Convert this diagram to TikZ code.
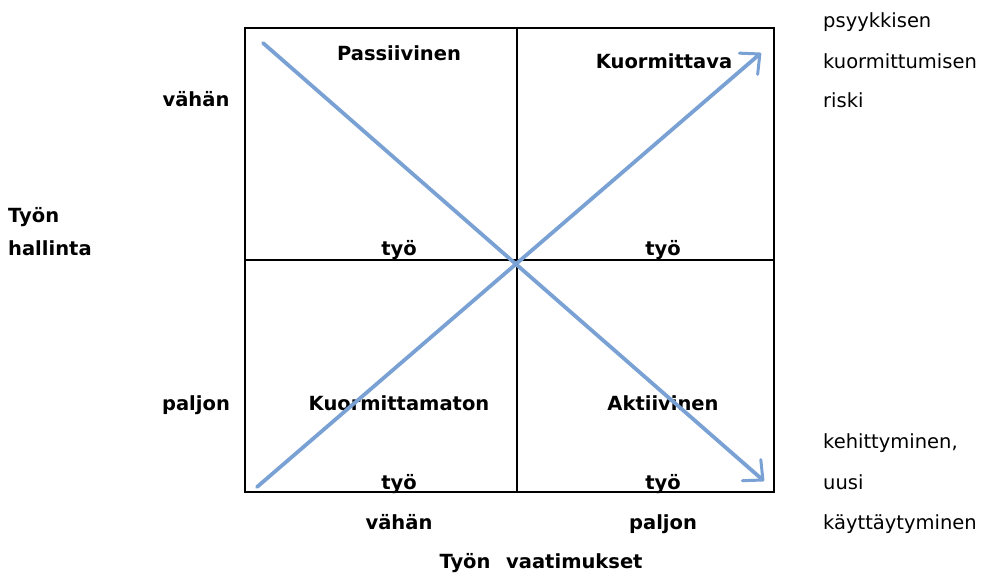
\documentclass[tikz,border=0pt]{standalone}
\usepackage{fontspec}
\setmainfont{DejaVu Sans}
\usetikzlibrary{arrows.meta}
\definecolor{arrowblue}{RGB}{122,161,212}
\begin{document}
\begin{tikzpicture}[x=1pt,y=-1pt,
  lbl/.style={font=\fontsize{19.5}{23}\selectfont\bfseries,inner sep=0pt,anchor=mid,yshift=-5pt},
  lbll/.style={lbl,anchor=mid west},
  side/.style={font=\fontsize{19.5}{23}\selectfont,inner sep=0pt,anchor=mid west,yshift=-5pt},
  frame/.style={line width=1.8pt,black},
  trend/.style={arrowblue,line width=3.8pt,line cap=round,
    -{Straight Barb[length=15pt,width=28pt,line width=3pt,round]}}]
\useasboundingbox (0,0) rectangle (990,576);
% frame
\coordinate (tl) at (245,28);
\coordinate (br) at (774,492);
\coordinate (tm) at (517,28);
\coordinate (bm) at (517,492);
\coordinate (ml) at (245,260);
\coordinate (mr) at (774,260);
\draw[frame] (tl) rectangle (br);
\draw[frame] (tm) -- (bm);
\draw[frame] (ml) -- (mr);
% quadrant labels
\node[lbl] (passiivinen) at (399,53) {Passiivinen};
\node[lbl] (kuormittava) at (664,61) {Kuormittava};
\node[lbl] (tyo1) at (399,248) {työ};
\node[lbl] (tyo2) at (663,248) {työ};
\node[lbl] (kuormittamaton) at (399,403) {Kuormittamaton};
\node[lbl] (aktiivinen) at (663,403) {Aktiivinen};
\node[lbl] (tyo3) at (399,482) {työ};
\node[lbl] (tyo4) at (663,482) {työ};
% axis labels
\node[lbl] (vahanl) at (196,99) {vähän};
\node[lbl] (paljonl) at (196,403) {paljon};
\node[lbll] (tyonl) at (8,215) {Työn};
\node[lbll] (hallinta) at (8,248) {hallinta};
\node[lbl] (vahanb) at (399,522) {vähän};
\node[lbl] (paljonb) at (663,522) {paljon};
\node[lbl] (tyonb) at (465,561) {Työn};
\node[lbll] (vaatimukset) at (506,561) {vaatimukset};
% side texts
\node[side] (psyyk) at (823,20) {psyykkisen};
\node[side] (kuorm) at (823,61) {kuormittumisen};
\node[side] (riski) at (823,100) {riski};
\node[side] (kehit) at (823,441) {kehittyminen,};
\node[side] (uusi) at (823,482) {uusi};
\node[side] (kayt) at (823,522) {käyttäytyminen};
% arrows (drawn over the text, as in the reference)
\coordinate (a1s) at (263,43);
\coordinate (a1e) at (764,481);
\coordinate (a2s) at (257,487);
\coordinate (a2e) at (761,53);
\draw[trend] (a1s) -- (a1e);
\draw[trend] (a2s) -- (a2e);
\end{tikzpicture}
\end{document}
